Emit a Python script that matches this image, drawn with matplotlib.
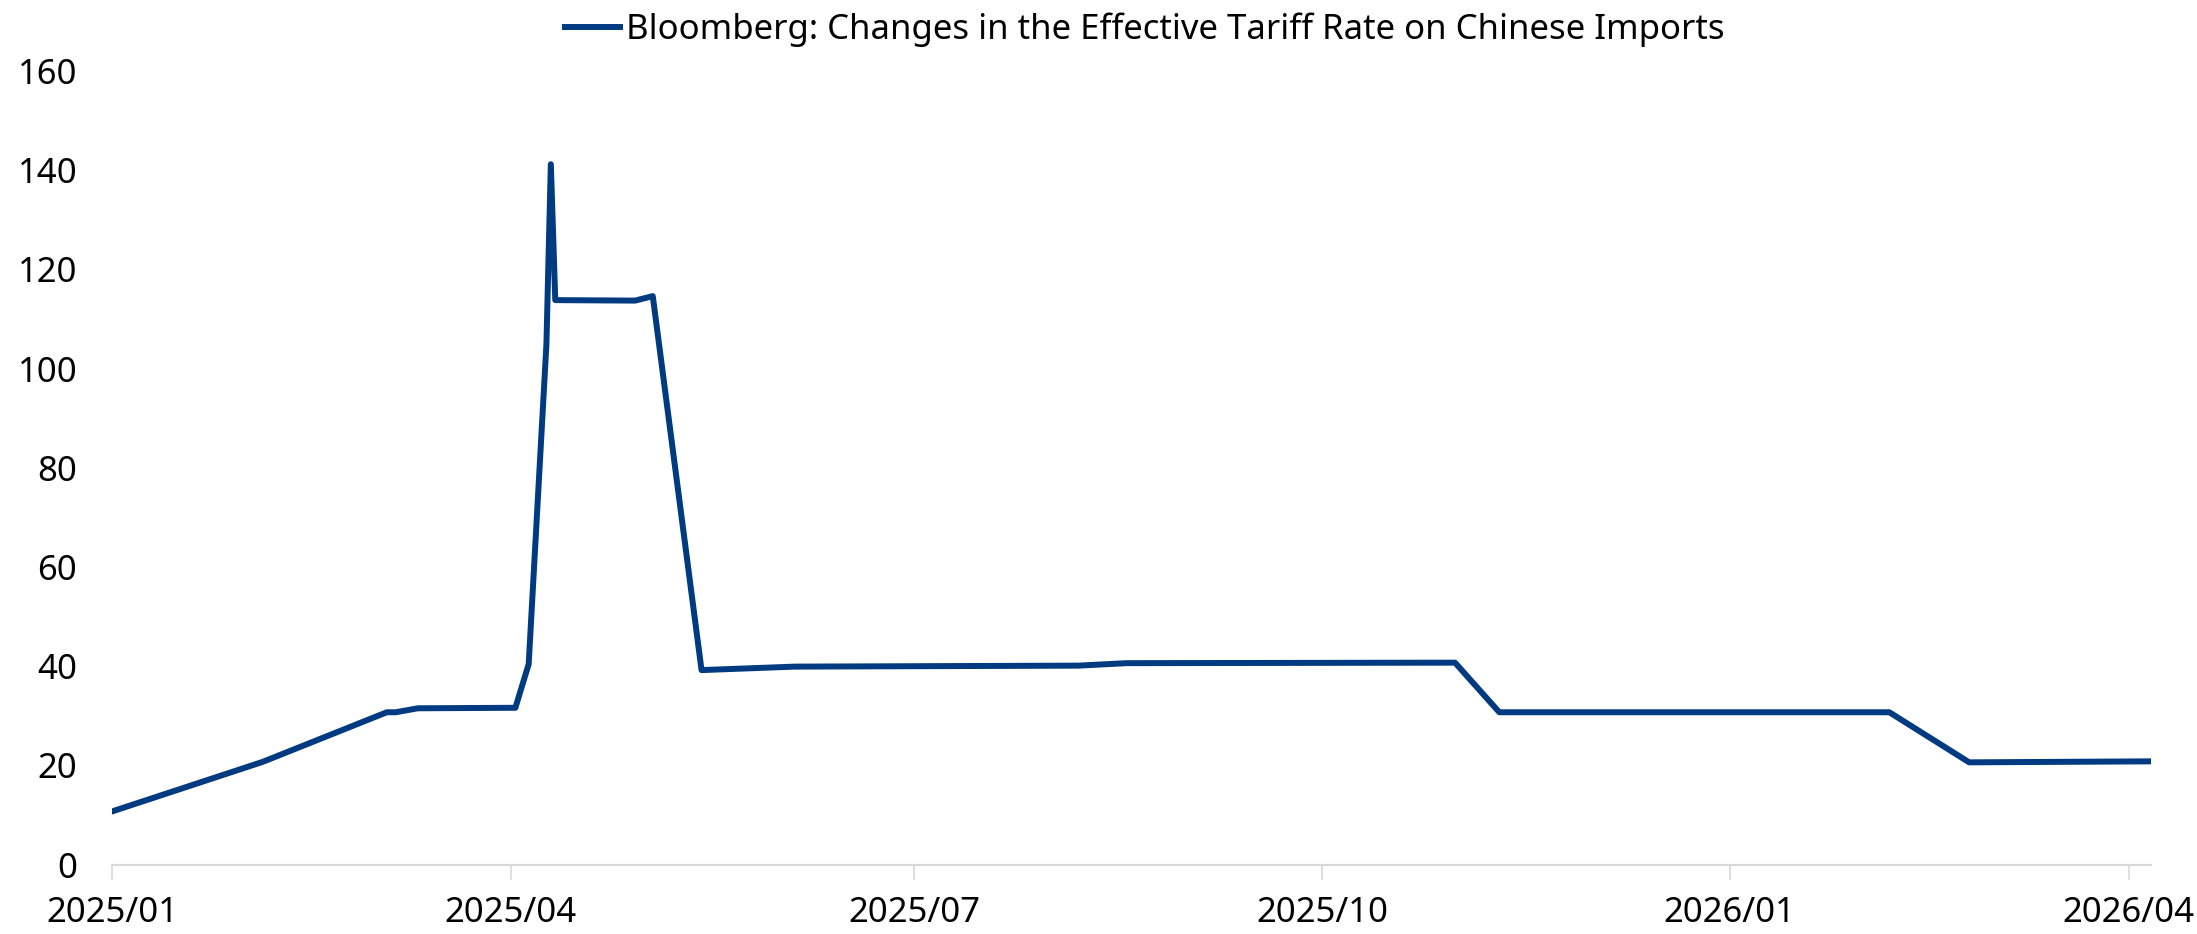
import pandas as pd
import numpy as np
import matplotlib.pyplot as plt
import matplotlib.dates as mdates

plt.rcParams['font.family'] = ['Noto Sans', 'DejaVu Sans']

dates = ['2025-01-01', '2025-02-04', '2025-03-04', '2025-03-06', '2025-03-11',
         '2025-04-02', '2025-04-05', '2025-04-09', '2025-04-10', '2025-04-11',
         '2025-04-29', '2025-05-03', '2025-05-14', '2025-06-04', '2025-08-07',
         '2025-08-18', '2025-10-31', '2025-11-10', '2026-02-06', '2026-02-24',
         '2026-04-06']
rate = [10.7, 20.7, 30.7, 30.7, 31.5,
        31.6, 40.4, 104.8, 141.2, 113.8,
        113.7, 114.6, 39.2, 39.9, 40.1,
        40.6, 40.7, 30.7, 30.7, 20.6,
        20.8]
label = 'Bloomberg: Changes in the Effective Tariff Rate on Chinese Imports'

x = pd.to_datetime(dates)
navy = '#003a80'

fig = plt.figure(figsize=(21.97, 9.34), dpi=100)
ax = fig.add_axes([0.051, 0.0744, 0.928, 0.8496])
ax.plot(x, rate, color=navy, lw=4.3, label=label)

ax.set_xlim(x[0], x[-1])
ax.set_ylim(0, 160)
ax.set_yticks(np.arange(0, 161, 20))
ax.xaxis.set_major_locator(mdates.MonthLocator(bymonth=[1, 4, 7, 10]))
ax.xaxis.set_major_formatter(mdates.DateFormatter('%Y/%m'))

for s in ['top', 'right', 'left']:
    ax.spines[s].set_visible(False)
ax.spines['bottom'].set_color('#d9d9d9')
ax.spines['bottom'].set_linewidth(1.5)
ax.tick_params(axis='x', length=11, width=1.2, color='#d9d9d9', pad=12, labelsize=25)
ax.tick_params(axis='y', length=0, pad=25, labelsize=25)

fig.legend(loc='center', bbox_to_anchor=(0.521, 0.968), frameon=False, fontsize=25,
           handlelength=1.6, handletextpad=0.15)

plt.savefig('out.png', dpi=100)
